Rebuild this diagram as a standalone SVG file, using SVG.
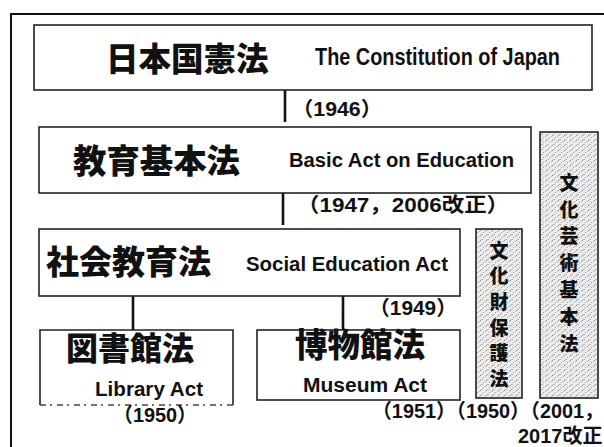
<svg xmlns="http://www.w3.org/2000/svg" width="604" height="447" viewBox="0 0 604 447">
<style>
.box{fill:#fff;stroke:#222;stroke-width:1.6}
.vbox{fill:url(#stip);stroke:#222;stroke-width:1.6}
.conn{stroke:#111;stroke-width:2.6;fill:none}
.jp{font-family:"Noto Sans CJK JP","Noto Sans CJK SC",sans-serif;font-weight:900;fill:#111}
.en{font-family:"Liberation Sans",Arial,sans-serif;font-weight:700;fill:#111}
.yr{font-family:"Liberation Sans","Noto Sans CJK JP",sans-serif;font-weight:700;fill:#111;font-size:20px}
.vt{font-family:"Noto Sans CJK JP",sans-serif;font-weight:900;fill:#111;font-size:19px;writing-mode:vertical-rl}
</style>
<defs>
<pattern id="stip" width="6" height="5" patternUnits="userSpaceOnUse">
<rect width="6" height="5" fill="#ececec"/>
<rect x="0" y="0" width="1" height="1" fill="#8a8a8a"/>
<rect x="3" y="2" width="1" height="1" fill="#a0a0a0"/>
<rect x="1" y="4" width="2" height="1" fill="#b5b5b5"/>
<rect x="5" y="1" width="1" height="1" fill="#b0b0b0"/>
</pattern>
</defs>
<g id="frame"><path d="M11 447 V14 H604" fill="none" stroke="#111" stroke-width="2"/></g>
<g id="connectors">
<line class="conn" x1="285" y1="90" x2="285" y2="122"/>
<line class="conn" x1="283" y1="193" x2="283" y2="225"/>
<line class="conn" x1="133" y1="296" x2="133" y2="330"/>
<line class="conn" x1="343" y1="296" x2="343" y2="330"/>
</g>
<g id="constitution">
<rect class="box" x="34" y="25" width="558" height="65"/>
<text class="jp" x="106" y="71" font-size="32.5">日本国憲法</text>
<text class="en" x="315" y="65" font-size="23" textLength="245" lengthAdjust="spacingAndGlyphs">The Constitution of Japan</text>
</g>
<text class="yr" x="292" y="116" textLength="90" lengthAdjust="spacingAndGlyphs">（1946）</text>
<g id="basic-act">
<rect class="box" x="39" y="127" width="492" height="66"/>
<text class="jp" x="73" y="173" font-size="33" textLength="167" lengthAdjust="spacingAndGlyphs">教育基本法</text>
<text class="en" x="289" y="167" font-size="20" textLength="225" lengthAdjust="spacingAndGlyphs">Basic Act on Education</text>
</g>
<text class="yr" x="297" y="212" textLength="212" lengthAdjust="spacingAndGlyphs">（1947，2006改正）</text>
<g id="social-education">
<rect class="box" x="39" y="229" width="421" height="67"/>
<text class="jp" x="46" y="274" font-size="32.5" textLength="165" lengthAdjust="spacingAndGlyphs">社会教育法</text>
<text class="en" x="246" y="271" font-size="19.5" textLength="202" lengthAdjust="spacingAndGlyphs">Social Education Act</text>
</g>
<text class="yr" x="369" y="315" textLength="88" lengthAdjust="spacingAndGlyphs">（1949）</text>
<g id="library">
<path d="M40 405 V330 H233 V405" fill="#fff" stroke="#222" stroke-width="1.6"/>
<path d="M40 405 H233" fill="none" stroke="#444" stroke-width="1.4" stroke-dasharray="6 4 2 5"/>
<text class="jp" x="66" y="360" font-size="32">図書館法</text>
<text class="en" x="95" y="396" font-size="20" textLength="108" lengthAdjust="spacingAndGlyphs">Library Act</text>
</g>
<text class="yr" x="113" y="422" textLength="84" lengthAdjust="spacingAndGlyphs">（1950）</text>
<g id="museum">
<rect class="box" x="257" y="330" width="203" height="70"/>
<text class="jp" x="295" y="357" font-size="32.5">博物館法</text>
<text class="en" x="303" y="392" font-size="20" textLength="124" lengthAdjust="spacingAndGlyphs">Museum Act</text>
</g>
<g id="cultural-properties">
<rect class="vbox" x="476" y="229" width="46" height="169"/>
<text class="vt" x="499" y="241" letter-spacing="6.6">文化財保護法</text>
</g>
<g id="culture-arts">
<rect class="vbox" x="540" y="132" width="58" height="266"/>
<text class="vt" x="569" y="173" letter-spacing="7.8">文化芸術基本法</text>
</g>
<text class="yr" x="372" y="418" textLength="232" lengthAdjust="spacingAndGlyphs">（1951）（1950）（2001，</text>
<text class="yr" x="518" y="443">2017改正</text>
</svg>
